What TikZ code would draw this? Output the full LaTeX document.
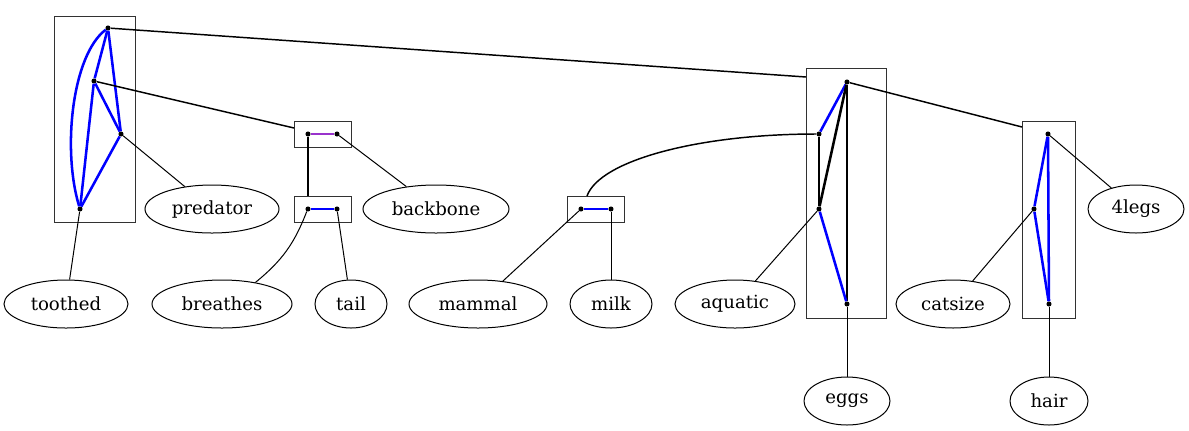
\documentclass[tikz,border=0pt]{standalone}
\usepackage{fontspec}
\setmainfont{DejaVu Serif}
\usetikzlibrary{shapes.geometric}
\definecolor{edgeblue}{RGB}{0,0,255}
\definecolor{edgepurple}{RGB}{153,50,204}
\definecolor{boxgray}{RGB}{50,50,50}
\begin{document}
\begin{tikzpicture}[x=0.75pt,y=-0.75pt,
  lab/.style={ellipse,draw,line width=0.75pt,minimum height=36pt,inner sep=0pt,font=\fontsize{13.6pt}{16pt}\selectfont},
  clusterbox/.style={draw=boxgray,line width=0.75pt,inner sep=0pt},
  dot/.style={circle,fill=black,inner sep=0pt,minimum size=3.8pt},
  conn/.style={line width=0.75pt},
  blueedge/.style={edgeblue,line width=1.9pt},
  blackedge/.style={black,line width=1.9pt}]
\useasboundingbox (0,0) rectangle (1189,430);
% cluster boxes
\node[clusterbox,minimum width=60.75pt,minimum height=154.5pt] (lbox) at (94.5,119) {};
\node[clusterbox,minimum width=42.75pt,minimum height=19.5pt] (pbox) at (322.5,134) {};
\node[clusterbox,minimum width=42.75pt,minimum height=19.5pt] (qbox) at (322.5,209) {};
\node[clusterbox,minimum width=42.75pt,minimum height=19.5pt] (sbox) at (595.5,209) {};
\node[clusterbox,minimum width=60pt,minimum height=187.5pt] (mbox) at (846,193) {};
\node[clusterbox,minimum width=39.75pt,minimum height=147.75pt] (rbox) at (1048.5,219.5) {};
% points
\node[dot] (A) at (108,28) {};
\node[dot] (B) at (94,81) {};
\node[dot] (C) at (121,134) {};
\node[dot] (D) at (80,209) {};
\node[dot] (P1) at (308,134) {};
\node[dot] (P2) at (337,134) {};
\node[dot] (Q1) at (308,209) {};
\node[dot] (Q2) at (337,209) {};
\node[dot] (S1) at (581,209) {};
\node[dot] (S2) at (611,209) {};
\node[dot] (E) at (847,82) {};
\node[dot] (F) at (819,134) {};
\node[dot] (G) at (819,209) {};
\node[dot] (H) at (847,304) {};
\node[dot] (I) at (1048,134) {};
\node[dot] (J) at (1034,209) {};
\node[dot] (K) at (1049,304) {};
% labels
\node[lab,minimum width=93pt] (toothed) at (66,304) {toothed};
\node[lab,minimum width=100.5pt] (predator) at (212,209) {predator};
\node[lab,minimum width=105pt] (breathes) at (222,304) {breathes};
\node[lab,minimum width=54pt] (tail) at (351,304) {tail};
\node[lab,minimum width=109.5pt] (backbone) at (436,209) {backbone};
\node[lab,minimum width=103.5pt] (mammal) at (478,304) {mammal};
\node[lab,minimum width=61.5pt] (milk) at (611,304) {milk};
\node[lab,minimum width=90pt] (aquatic) at (735,304) {aquatic};
\node[lab,minimum width=85.5pt] (catsize) at (953,304) {catsize};
\node[lab,minimum width=64.5pt] (eggs) at (847,401) {eggs};
\node[lab,minimum width=58.5pt] (hair) at (1049,401) {hair};
\node[lab,minimum width=72pt] (fourlegs) at (1136,209) {4legs};
% box-border end points
\coordinate (mIn) at (806,77);
\coordinate (pIn) at (294,128);
\coordinate (rIn) at (1022,127);
\coordinate (sIn) at (587,196);
\coordinate (qIn) at (308,196);
% internal edges: left box
\draw[blueedge] (A) -- (B);
\draw[blueedge] (A) -- (C);
\draw[blueedge] (B) -- (C);
\draw[blueedge] (B) -- (D);
\draw[blueedge] (C) -- (D);
\draw[blueedge] (A) .. controls (72,55) and (62,150) .. (D);
% small boxes
\draw[edgepurple,line width=1.9pt] (P1) -- (P2);
\draw[blueedge] (Q1) -- (Q2);
\draw[blueedge] (S1) -- (S2);
% middle box
\draw[blueedge] (E) -- (F);
\draw[blackedge] (E) -- (G);
\draw[blackedge] (E) -- (H);
\draw[blackedge] (F) -- (G);
\draw[blueedge] (G) -- (H);
% right box
\draw[blueedge] (I) -- (J);
\draw[blueedge] (J) -- (K);
\draw[blueedge] (I) -- (K);
% connectors between clusters
\draw[conn,line width=1.1pt] (A) -- (mIn);
\draw[conn,line width=1.1pt] (B) -- (pIn);
\draw[conn,line width=1.1pt] (E) -- (rIn);
\draw[conn,line width=1.1pt] (P1) -- (qIn);
\draw[conn,line width=1.1pt] (F) .. controls (700,134) and (600,160) .. (sIn);
% connectors to labels
\draw[conn] (C) -- (predator);
\draw[conn] (D) -- (toothed);
\draw[conn] (P2) -- (backbone);
\draw[conn] (Q1) to[bend left=15] (breathes);
\draw[conn] (Q2) -- (tail);
\draw[conn] (S1) -- (mammal);
\draw[conn] (S2) -- (milk);
\draw[conn] (G) -- (aquatic);
\draw[conn] (H) -- (eggs);
\draw[conn] (I) -- (fourlegs);
\draw[conn] (J) -- (catsize);
\draw[conn] (K) -- (hair);
\end{tikzpicture}
\end{document}
